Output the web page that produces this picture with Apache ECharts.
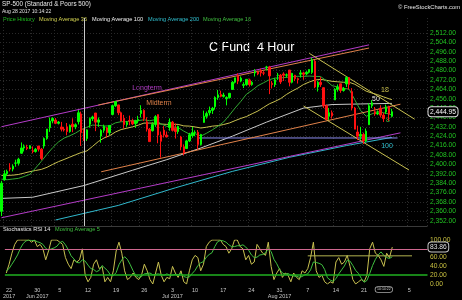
<!DOCTYPE html>
<html><head><meta charset="utf-8">
<script src="https://cdn.jsdelivr.net/npm/echarts@6/dist/echarts.min.js"></script>
<style>html,body{margin:0;padding:0;background:#000;}#c{width:462px;height:300px;}</style>
</head><body><div id="c"></div>
<script>
// ---------- DATA ----------
const firstBar = -1;               // bar index of first category (May 19, 2nd 4h bar)
const lastBar = 148;               // last (future, empty) category
// x-axis week ticks (bar index) and labels
const tickBars   = [0, 10, 18, 28, 38, 48, 58, 66, 76, 86, 96, 106, 116, 126, 142];
const tickLabels = ['22','30','5','12','19','26','3','10','17','24','31','7','14','21','5'];
const tickMonths = ['2017','Jun 2017','','','','','Jul 2017','','','','Aug 2017','','','',''];
const timeBoxBar = 133, timeBoxText = '10:14:22';
// price labels
const priceMin = 2344, priceMax = 2528, priceStep = 8;
const lastPrice = 2444.95;
// candles [open, close, low, high], bars -1 .. 136
const ohlc = [
[2360,2384,2356,2386],
[2387,2392,2386,2395],[2392,2394,2390,2395.5],
[2397,2396,2394,2401],[2396,2398.4,2394,2400],
[2401,2401.2,2398,2404],[2401,2404.4,2399,2405.6],
[2409.5,2414,2409,2418.7],[2414,2415.1,2411,2417],
[2414.5,2413.5,2412.2,2416.7],[2413.5,2415.8,2413,2416.5],
[2411.7,2411,2409.4,2415.3],[2411,2412.9,2410,2414],
[2415.6,2413,2411,2415.8],[2413,2405,2403.6,2414],
[2415.6,2422,2413.5,2423],[2422,2430.1,2421,2430.1],
[2431.3,2437,2427.7,2440],[2437,2439.1,2435,2440.2],
[2437.8,2435,2434.3,2439.5],[2435,2436.1,2434,2437],
[2431.9,2430,2428.1,2436.2],[2430,2429.3,2428,2432],
[2432,2428,2424.8,2435.3],[2428,2433.1,2427,2434],
[2434.3,2432,2427.4,2439.3],[2432,2433.8,2430,2435],
[2436.4,2444,2434,2446.2],[2443,2427,2415.7,2445],
[2426,2422,2420,2430.4],[2422,2429.4,2420,2430],
[2434.2,2439,2431.3,2440],[2439,2440.4,2437,2441.5],
[2443.8,2436,2428.3,2443.8],[2436,2437.9,2432,2440],
[2424.1,2429,2418.5,2430],[2429,2432.5,2427,2433.9],
[2431.2,2427,2422.9,2432],[2427,2433.2,2425,2433.2],
[2442.6,2450,2441.8,2451],[2450,2453.5,2449,2453.8],
[2450.7,2444,2442,2450.7],[2444,2437,2436.6,2445],
[2439.3,2434,2430.7,2442.2],[2434,2435.6,2432,2437],
[2437.4,2437,2433.3,2441.6],[2437,2434.5,2433.5,2439],
[2434.7,2437,2431.1,2438],[2437,2438.3,2435,2441.4],
[2443.3,2446,2440,2450.4],[2446,2439.1,2437,2447],
[2436.3,2430,2428,2440.2],[2430,2419.4,2419.4,2431],
[2428.7,2434,2428,2436],[2434,2440.7,2432,2442],
[2442.4,2425,2418,2442.7],[2425,2419.7,2405.7,2428],
[2429.2,2425,2422.9,2432.7],[2425,2423.4,2423,2428],
[2431.4,2436,2428.7,2439.2],[2436,2429,2428,2437],
[2430.8,2428,2422,2434.9],[2428,2432.5,2426,2433],
[2423.4,2415,2412,2424.3],[2415,2409.8,2407.7,2417],
[2413.5,2420,2413.5,2421],[2420,2425.2,2419,2426.9],
[2424.5,2427,2422.7,2432],[2427,2427.4,2424,2429],
[2427.4,2417,2412.8,2429.3],[2417,2425.5,2416,2426],
[2435.8,2441,2435.6,2445.8],[2441,2443.3,2439,2445],
[2444,2446,2441.7,2449.3],[2446,2447.8,2443,2449],
[2449.2,2457,2446.7,2458],[2457,2459.3,2455,2463.5],
[2459.5,2458,2457.2,2462.8],[2458,2459.1,2457,2461],
[2455.9,2457,2450.3,2458],[2457,2460.6,2456,2460.9],
[2463.9,2470,2463.9,2471],[2470,2473.8,2469,2473.8],
[2475.6,2471,2468.4,2477.6],[2471,2473.5,2470,2475],
[2467.4,2468,2465.1,2470],[2468,2472.5,2467,2472.5],
[2472,2468,2466.3,2473.1],[2468,2469.9,2467,2471],
[2477.9,2479,2474.9,2481.2],[2479,2477.1,2476,2480],
[2479.97,2478,2474.9,2481.7],[2478,2477.8,2476,2479.5],
[2482.8,2483,2480,2484],[2483,2475.4,2459.9,2484],
[2469.1,2468,2464.7,2471],[2468,2472.1,2466,2473.5],
[2475.9,2476,2472,2477.96],[2476,2470.3,2468.5,2477],
[2477.1,2476,2471.1,2478.5],[2476,2476.35,2474,2477.5],
[2480.4,2470,2466.5,2480.4],[2470,2477.6,2469,2478],
[2476,2473,2471,2476.3],[2473,2472.2,2468.9,2474],
[2476.9,2478,2474,2480.4],[2478,2476.8,2472.1,2479],
[2477.1,2478.5,2475.9,2479.5],[2478.5,2480.9,2477.5,2480.95],
[2478.4,2489,2477,2490.9],[2488,2466,2465,2489],
[2466,2470,2462.1,2471],[2470,2468,2466,2474.4],
[2465.4,2450,2448,2465.4],[2450,2438.2,2437.75,2451],
[2441,2444,2437.85,2448.1],[2444,2441.3,2439,2446],
[2454.96,2464,2454.96,2465],[2464,2465.8,2462,2468.2],
[2468.7,2463,2461,2468.7],[2463,2464.6,2462,2466],
[2468.6,2474,2466,2474.9],[2474,2468.1,2463.9,2474.5],
[2462,2448,2446,2465],[2448,2430,2430,2449],
[2427.6,2424,2420.7,2433],[2424,2425.6,2421,2432],
[2425.5,2420,2417.35,2427],[2420,2428.4,2419,2430.6],
[2433.8,2450,2433.7,2452],[2450,2452.5,2448,2454.8],
[2444.9,2443,2441.4,2448.9],[2443,2444,2442,2446],
[2447.9,2442,2440,2450.4],[2442,2438.97,2436.2,2444],
[2444.7,2449,2443,2451],[2449,2443.05,2437,2450],
[2441,2444.95,2440,2447.4]
];
// moving averages, read at daily points (bar index, value)
const ma16Bars = [-1,1,3,5,7,9,11,13,15,17,19,21,23,25,27,29,31,33,35,37,39,41,43,45,47,49,51,53,55,57,59,61,63,65,67,69,71,73,75,77,79,81,83,85,87,89,91,93,95,97,99,101,103,105,107,109,111,113,115,117,119,121,123,125,127,129,131,133,135,136];
const ma16 = [2387.4,2386.9,2387.5,2388.1,2389.7,2391.5,2396.9,2402.6,2408.6,2414.3,2419.1,2422.4,2424.4,2426.7,2429.7,2431.7,2433.5,2433.3,2432.7,2432.8,2435.4,2436.4,2436.3,2437.5,2437.3,2438.0,2437.2,2438.1,2434.5,2432.4,2432.1,2431.4,2428.3,2425.8,2426.1,2424.1,2426.6,2429.4,2432.6,2436.2,2442.0,2448.1,2453.7,2459.9,2463.2,2467.1,2469.6,2472.2,2473.6,2473.7,2474.2,2474.7,2475.1,2475.0,2475.3,2475.0,2474.9,2471.3,2467.1,2466.0,2464.9,2464.1,2455.0,2446.0,2441.0,2443.0,2445.0,2444.0,2443.0,2442.0];
const ma36Bars = ma16Bars;
const ma36 = [2390.6,2390.6,2390.8,2391.4,2392.6,2393.8,2394.8,2395.7,2397.5,2400.0,2402.3,2404.2,2406.2,2408.2,2410.1,2411.5,2415.4,2419.5,2422.5,2424.5,2427.6,2429.7,2430.8,2432.0,2433.4,2435.2,2435.2,2435.1,2434.4,2434.1,2434.2,2434.1,2432.8,2432.6,2431.9,2431.0,2431.7,2432.6,2433.0,2434.0,2435.3,2437.3,2439.2,2440.8,2443.2,2445.5,2448.6,2451.6,2453.7,2456.1,2459.6,2462.5,2465.0,2468.1,2470.2,2471.9,2472.5,2471.7,2470.8,2470.4,2470.0,2470.0,2468.3,2465.4,2462.4,2460.8,2459.4,2457.6,2455.9,2455.2];
const ma100Bars = [-1,10,28,45,57,69,80,92,105,115,125,136];
const ma100 = [2371,2372,2382,2395,2404,2414,2424,2436,2448,2451,2451.5,2452];
const ma200Bars = [18,40,60,80,100,120,136];
const ma200 = [2352.6,2365,2380,2394,2406,2416,2423];
// drawn trend lines: [startBar, startPrice, endBar, endPrice]
const longtermUpper = [-1, 2432.1, 128, 2501.9];
const midtermUpper  = [33, 2450.6, 128, 2499.2];
const longtermLower = [-1, 2354.5, 139, 2426.9];
const midtermLower  = [34, 2393.7, 139, 2451.3];
const supportLine   = [68, 2422.5, 138, 2422.5];
const downUpper     = [107, 2494.7, 144, 2438.5];
const downLower     = [105, 2449.8, 142, 2395.2];
const cursorBar = 28;
// Stochastic RSI 14 and its 5-period average, bars -1 .. 136
const stochK = [25,45,70,90,100,100,100,100,100,95,100,85,90,80,55,75,100,100,100,95,90,60,45,35,55,50,55,80,20,5,15,45,55,35,40,5,15,5,30,75,95,70,30,10,15,25,15,10,20,45,30,10,0,25,50,20,5,15,12,40,25,15,30,5,0,30,55,65,60,30,45,85,95,100,100,100,100,90,85,70,80,100,100,85,80,55,65,45,50,90,80,70,65,95,40,10,25,35,15,25,20,5,25,15,10,30,25,35,60,95,30,15,20,5,0,5,2,50,60,45,50,65,40,10,0,5,10,5,20,80,95,70,65,55,40,70,60,83.86];
const stochMA = [30,35,45,55,66,81,92,98,100,99,99,96,94,90,81,77,80,82,86,94,97,89,78,64,57,49,48,55,52,43,35,33,28,31,42,36,30,20,19,26,44,55,62,56,44,30,19,15,17,23,24,25,21,22,23,21,20,23,20,20,22,21,24,17,15,16,24,31,42,48,51,61,67,71,85,96,99,98,95,89,85,85,87,87,89,84,77,66,60,61,66,67,71,80,74,56,46,33,25,22,24,20,18,18,15,17,21,23,32,50,49,47,44,33,14,9,6,12,23,32,41,54,52,42,31,24,13,4,8,24,42,56,66,73,65,60,58,62];
const stochLevelHi = 80, stochLevelLo = 20;
const stochDrawn = [106, 64, 143, 64];

// ---------- BUILD ----------
const cats = [];
for (let b = firstBar; b <= lastBar; b++) cats.push('b' + b);
const ci = b => b - firstBar;
const tickMap = {};
tickBars.forEach((b, k) => { tickMap[ci(b)] = k; });
const pairs = (bars, vals) => bars.map((b, k) => [ci(b), vals[k]]);

const PLOT_W = 427.5;
const FONT = 'Liberation Sans';

function seg(l, color, circles, grid) {
  const xi = grid === 'stoch' ? 2 : 0;
  return {
    type: 'line', xAxisIndex: xi, yAxisIndex: xi,
    data: [
      { value: [ci(l[0]), l[1]], symbol: circles[0] ? 'circle' : 'none' },
      { value: [ci(l[2]), l[3]], symbol: circles[1] ? 'circle' : 'none' }
    ],
    symbolSize: 3.5, showSymbol: true,
    itemStyle: { color: '#000', borderColor: color, borderWidth: 1 },
    lineStyle: { color: color, width: 1 }, silent: true, animation: false, z: 3
  };
}
function maLine(bars, vals, color) {
  return { type: 'line', xAxisIndex: 0, yAxisIndex: 0, data: pairs(bars, vals),
    showSymbol: false, symbol: 'none', lineStyle: { color, width: 1 }, silent: true, animation: false, z: 2 };
}

const splitColors = [];
for (let v = priceMin; v <= priceMax; v += priceStep) {
  splitColors.push(v < 2352 || v > 2512 ? 'rgba(0,0,0,0)' : '#2a2a2a');
}

const chart = echarts.init(document.getElementById('c'), null, { width: 462, height: 300 });
const yTop = 33 - (priceMax - 2512) * 1.173;
const yBot = 33 + (2512 - priceMin) * 1.173;
const mainMax = 2512 + 15 / 1.173, mainMin = 2512 - 193 / 1.173;
const fmt2 = v => Number(v).toLocaleString('en-US', { minimumFractionDigits: 2, maximumFractionDigits: 2 });

const option = {
  backgroundColor: '#000',
  animation: false,
  textStyle: { fontFamily: FONT },
  axisPointer: { triggerOn: 'none' },
  grid: [
    { left: 0, top: 18, width: PLOT_W, height: 208 },
    { left: 0, top: yTop, width: PLOT_W, height: yBot - yTop },
    { left: 0, top: 240, width: PLOT_W, height: 46.7 }
  ],
  xAxis: [
    { type: 'category', gridIndex: 0, data: cats, boundaryGap: true,
      axisLine: { show: false }, axisTick: { show: false }, axisLabel: { show: false },
      splitLine: { show: true, interval: (i) => tickMap[i] !== undefined,
        lineStyle: { color: '#2a2a2a', type: [1, 2], width: 1 } } },
    { type: 'category', gridIndex: 1, data: cats, show: false },
    { type: 'category', gridIndex: 2, data: cats, boundaryGap: true,
      axisLine: { show: false }, axisTick: { show: false },
      axisLabel: { show: true, interval: (i) => tickMap[i] !== undefined, margin: 3,
        color: '#c8c8c8', fontSize: 5.5, lineHeight: 6.5, fontFamily: FONT,
        formatter: (v, i) => { const k = tickMap[i]; if (k === undefined) return '';
          return tickMonths[k] ? tickLabels[k] + '\n' + tickMonths[k] : tickLabels[k]; } },
      splitLine: { show: false },
      axisPointer: { show: true, type: 'none', value: ci(timeBoxBar), status: 'show', snap: false, triggerTooltip: false,
        label: { show: true, formatter: timeBoxText, fontSize: 3.5, color: '#ddd', backgroundColor: '#000',
          borderColor: '#aaa', borderWidth: 0.8, padding: [0.5, 1.5], margin: 3 } } }
  ],
  yAxis: [
    { type: 'value', gridIndex: 0, min: mainMin, max: mainMax, show: false, splitLine: { show: false } },
    { type: 'value', gridIndex: 1, min: priceMin, max: priceMax, interval: priceStep, position: 'right',
      axisLine: { show: false }, axisTick: { show: false },
      axisLabel: { margin: 2.5, color: '#22c322', fontSize: 6.7, fontFamily: FONT,
        formatter: v => (v < 2352 || v > 2512) ? '' : fmt2(v) },
      splitLine: { show: true, lineStyle: { color: splitColors, type: [1, 2], width: 1 } },
      axisPointer: { show: true, type: 'none', value: lastPrice, status: 'show', snap: false, triggerTooltip: false,
        label: { show: true, formatter: p => fmt2(p.value),
          fontSize: 6.7, color: '#fff', backgroundColor: '#000', borderColor: '#e0e0e0', borderWidth: 1,
          padding: [1, 1.5], margin: 1 } } },
    { type: 'value', gridIndex: 2, min: 0, max: 100, interval: 20, position: 'right',
      axisLine: { show: false }, axisTick: { show: false },
      axisLabel: { margin: 2.5, color: '#c8c040', fontSize: 6.7, fontFamily: FONT,
        formatter: v => v === 80 ? '' : v.toFixed(2) },
      splitLine: { show: false },
      axisPointer: { show: true, type: 'none', value: stochK[stochK.length - 1], status: 'show', snap: false, triggerTooltip: false,
        label: { show: true, formatter: p => Number(p.value).toFixed(2), fontSize: 6.7, color: '#e0e0e0',
          backgroundColor: '#000', borderColor: '#c8c8c8', borderWidth: 1, padding: [1, 1.5], margin: 1 } } }
  ],
  series: [
    seg(longtermLower, '#b43cc8', [false, true]),
    maLine(ma200Bars, ma200, '#30b8cc'),
    maLine(ma100Bars, ma100, '#c8c8c8'),
    seg(supportLine, '#8c8cf0', [false, true]),
    seg(midtermLower, '#e0824a', [true, true]),
    seg(longtermUpper, '#b43cc8', [false, true]),
    seg(midtermUpper, '#e0824a', [true, false]),
    maLine(ma36Bars, ma36, '#c8c050'),
    maLine(ma16Bars, ma16, '#32a832'),
    { type: 'candlestick', xAxisIndex: 0, yAxisIndex: 0, data: ohlc, barWidth: 2, silent: true, z: 4,
      itemStyle: { color: '#00ff00', color0: '#ff1010', borderColor: '#00ff00', borderColor0: '#ff1010', borderWidth: 1 },
      markLine: { silent: true, symbol: 'none', label: { show: false },
        lineStyle: { color: '#c8c8c8', width: 1, type: 'solid' },
        data: [{ xAxis: ci(cursorBar) }] } },
    seg(downUpper, '#c8c050', [true, true]),
    seg(downLower, '#c8c050', [true, true]),
    { type: 'line', xAxisIndex: 2, yAxisIndex: 2, data: stochK, symbol: 'none', z: 3,
      lineStyle: { color: '#c8c050', width: 1 }, silent: true,
      markLine: { silent: true, symbol: 'none', label: { show: false },
        data: [
          { yAxis: stochLevelHi, lineStyle: { color: '#d06890', width: 1, type: 'solid' } },
          { yAxis: stochLevelLo, lineStyle: { color: '#20b020', width: 1.6, type: 'solid' } }
        ] } },
    { type: 'line', xAxisIndex: 2, yAxisIndex: 2, data: stochMA, symbol: 'none', z: 3,
      lineStyle: { color: '#40c040', width: 1 }, silent: true },
    seg(stochDrawn, '#b4b450', [false, true], 'stoch')
  ],
  graphic: [
    { type: 'text', left: 2, top: 1, style: { text: 'SP-500 (Standard & Poors 500)', fill: '#e8e8e8', font: '6.3px ' + FONT } },
    { type: 'text', left: 2, top: 9.5, style: { text: 'Aug 28 2017 10:14:22', fill: '#e0e0e0', font: '5px ' + FONT } },
    { type: 'text', left: 3, top: 16.5, style: { text: 'Price History', fill: '#1fbf1f', font: '5.6px ' + FONT } },
    { type: 'text', left: 39, top: 16.5, style: { text: 'Moving Average 36', fill: '#d2d250', font: '5.6px ' + FONT } },
    { type: 'text', left: 92, top: 16.5, style: { text: 'Moving Average 100', fill: '#f0f0f0', font: '5.6px ' + FONT } },
    { type: 'text', left: 148, top: 16.5, style: { text: 'Moving Average 200', fill: '#30c0d0', font: '5.6px ' + FONT } },
    { type: 'text', left: 203, top: 16.5, style: { text: 'Moving Average 16', fill: '#40c040', font: '5.6px ' + FONT } },
    { type: 'text', right: 2, top: 4, style: { text: '\u00a9 FreeStockCharts.com', fill: '#e8e8e8', font: '5.8px ' + FONT } },
    { type: 'text', left: 209, top: 41, style: { text: 'C Fund  4 Hour', fill: '#ffffff', font: '12.5px ' + FONT } },
    { type: 'text', x: 147, y: 88, style: { text: 'Longterm', fill: '#b43cc8', font: '7px ' + FONT, textAlign: 'center', textVerticalAlign: 'middle' } },
    { type: 'text', x: 159, y: 103, style: { text: 'Midterm', fill: '#e0824a', font: '7px ' + FONT, textAlign: 'center', textVerticalAlign: 'middle' } },
    { type: 'text', x: 385, y: 90, style: { text: '18', fill: '#d2c850', font: '7px ' + FONT, textAlign: 'center', textVerticalAlign: 'middle' } },
    { type: 'text', x: 376, y: 99, style: { text: '50', fill: '#f0f0f0', font: '7px ' + FONT, textAlign: 'center', textVerticalAlign: 'middle' } },
    { type: 'text', x: 388, y: 120, style: { text: '8', fill: '#40c040', font: '7px ' + FONT, textAlign: 'center', textVerticalAlign: 'middle' } },
    { type: 'text', x: 387, y: 146, style: { text: '100', fill: '#30c0d0', font: '7px ' + FONT, textAlign: 'center', textVerticalAlign: 'middle' } },
    { type: 'rect', left: 0, top: 226, shape: { width: PLOT_W, height: 1 }, style: { fill: '#3a3a3a' } },
    { type: 'text', left: 3, top: 226.5, style: { text: 'Stochastics RSI 14', fill: '#e8e8e8', font: '5.6px ' + FONT } },
    { type: 'text', left: 55, top: 226.5, style: { text: 'Moving Average 5', fill: '#40c040', font: '5.6px ' + FONT } }
  ]
};
chart.setOption(option);
</script>
</body></html>
